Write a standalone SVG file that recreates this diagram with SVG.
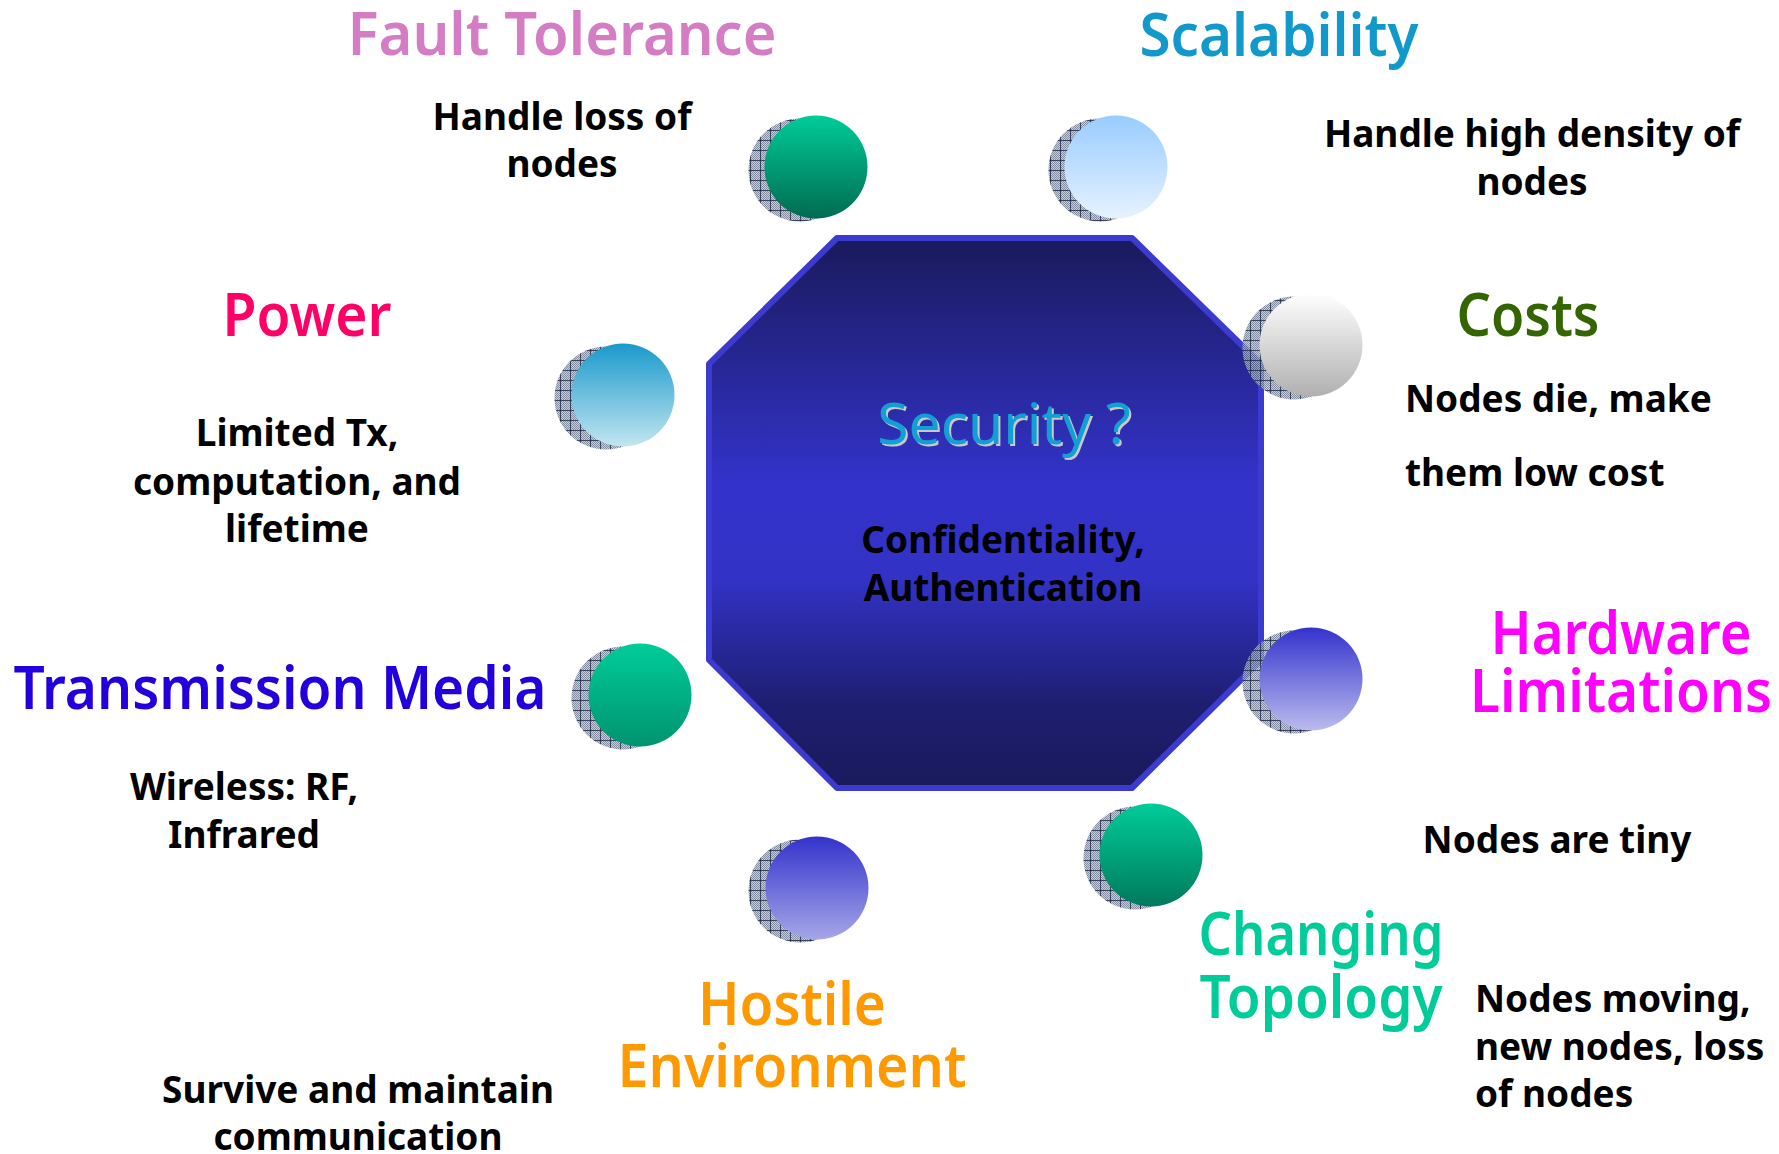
<svg xmlns="http://www.w3.org/2000/svg" width="1779" height="1154" viewBox="0 0 1779 1154">
<style>
.title{font-family:"Noto Sans","DejaVu Sans",sans-serif;font-size:60px;font-weight:600;text-anchor:middle}
.body{font-family:"Noto Sans","DejaVu Sans",sans-serif;font-size:37px;font-weight:700;fill:#000}
.mid{text-anchor:middle}
.shadow{fill:url(#hatch)}
</style>
<defs>
<pattern id="dots" width="2" height="2" patternUnits="userSpaceOnUse">
<rect width="2" height="2" fill="#b8c0cc"/>
<rect width="1" height="1" fill="#66728a"/>
<rect x="1" y="1" width="1" height="1" fill="#66728a"/>
</pattern>
<pattern id="hatch" width="10" height="10" patternUnits="userSpaceOnUse">
<rect width="10" height="10" fill="url(#dots)" opacity="0.8"/>
<path d="M0 0.5H10M0.5 0V10" stroke="#1c2a48" stroke-width="1" stroke-opacity="0.8"/>
</pattern>
<linearGradient id="octFill" x1="0" y1="0" x2="0" y2="1">
<stop offset="0" stop-color="#1a1a5c"/>
<stop offset="0.45" stop-color="#3333cc"/>
<stop offset="0.62" stop-color="#3232c6"/>
<stop offset="0.85" stop-color="#1e1e70"/>
<stop offset="1" stop-color="#1a1a5c"/>
</linearGradient>
<linearGradient id="gGreenDark" x1="0" y1="0" x2="0" y2="1"><stop offset="0" stop-color="#00cc99"/><stop offset="1" stop-color="#006b50"/></linearGradient>
<linearGradient id="gGreenMid" x1="0" y1="0" x2="0" y2="1"><stop offset="0" stop-color="#00cc99"/><stop offset="1" stop-color="#007a5c"/></linearGradient>
<linearGradient id="gGreenLight" x1="0" y1="0" x2="0" y2="1"><stop offset="0" stop-color="#00cc99"/><stop offset="1" stop-color="#009470"/></linearGradient>
<linearGradient id="gSky" x1="0" y1="0" x2="0" y2="1"><stop offset="0" stop-color="#99ccff"/><stop offset="1" stop-color="#e6f2ff"/></linearGradient>
<linearGradient id="gCyan" x1="0" y1="0" x2="0" y2="1"><stop offset="0" stop-color="#1a99cc"/><stop offset="1" stop-color="#c2e6f0"/></linearGradient>
<linearGradient id="gWhite" x1="0" y1="0" x2="0" y2="1"><stop offset="0" stop-color="#ffffff"/><stop offset="1" stop-color="#b0b0b0"/></linearGradient>
<linearGradient id="gBlueLight" x1="0" y1="0" x2="0" y2="1"><stop offset="0" stop-color="#3333cc"/><stop offset="1" stop-color="#bbbbee"/></linearGradient>
<linearGradient id="gBlueMid" x1="0" y1="0" x2="0" y2="1"><stop offset="0" stop-color="#3333cc"/><stop offset="1" stop-color="#a6a6e8"/></linearGradient>
</defs>
<rect width="1779" height="1154" fill="#ffffff"/>

<g id="security">
<polygon points="837,238 1132,238 1261,364 1261,660 1132,788 837,788 709,660 709,364" fill="url(#octFill)" stroke="#3b3bd0" stroke-width="6" stroke-linejoin="round"/>
<text x="1006" y="446" font-family="'Noto Sans','DejaVu Sans',sans-serif" font-size="57" text-anchor="middle" fill="#c8c8c8">Security ?</text>
<text x="1004" y="444" font-family="'Noto Sans','DejaVu Sans',sans-serif" font-size="57" text-anchor="middle" fill="#12a0d2">Security ?</text>
<text class="body mid" x="1003" y="553">Confidentiality,</text>
<text class="body mid" x="1003" y="601">Authentication</text>
</g>

<g id="connectors"/>

<g id="fault-tolerance">
<circle class="shadow" cx="800" cy="170" r="51.5"/>
<circle cx="816" cy="167" r="51.5" fill="url(#gGreenDark)"/>
<text class="title" x="562" y="55" fill="#d47cc4" textLength="429" lengthAdjust="spacingAndGlyphs">Fault Tolerance</text>
<text class="body mid" x="562" y="130">Handle loss of</text>
<text class="body mid" x="562" y="177">nodes</text>
</g>

<g id="scalability">
<circle class="shadow" cx="1100" cy="170" r="51.5"/>
<circle cx="1116" cy="167" r="51.5" fill="url(#gSky)"/>
<text class="title" x="1279" y="56" fill="#1199cc" textLength="279" lengthAdjust="spacingAndGlyphs">Scalability</text>
<text class="body mid" x="1532" y="147">Handle high density of</text>
<text class="body mid" x="1532" y="195">nodes</text>
</g>

<g id="power">
<circle class="shadow" cx="606" cy="398" r="51.5"/>
<circle cx="623" cy="395" r="51.5" fill="url(#gCyan)"/>
<text class="title" x="307" y="336" fill="#ff0066" textLength="169" lengthAdjust="spacingAndGlyphs">Power</text>
<text class="body mid" x="297" y="446">Limited Tx,</text>
<text class="body mid" x="297" y="495">computation, and</text>
<text class="body mid" x="297" y="542">lifetime</text>
</g>

<g id="costs">
<circle class="shadow" cx="1294" cy="348" r="51.5"/>
<circle cx="1311" cy="345" r="51.5" fill="url(#gWhite)"/>
<text class="title" x="1528" y="336" fill="#336600" textLength="143" lengthAdjust="spacingAndGlyphs">Costs</text>
<text class="body" x="1405" y="412">Nodes die, make</text>
<text class="body" x="1405" y="486">them low cost</text>
</g>

<g id="transmission-media">
<circle class="shadow" cx="623" cy="698" r="51.5"/>
<circle cx="640" cy="695" r="51.5" fill="url(#gGreenLight)"/>
<text class="title" x="280" y="709" fill="#2200dd" textLength="533" lengthAdjust="spacingAndGlyphs">Transmission Media</text>
<text class="body mid" x="244" y="800">Wireless: RF,</text>
<text class="body mid" x="244" y="848">Infrared</text>
</g>

<g id="hardware-limitations">
<circle class="shadow" cx="1294" cy="682" r="51.5"/>
<circle cx="1311" cy="679" r="51.5" fill="url(#gBlueLight)"/>
<text class="title" x="1621" y="654" fill="#ff00ff" textLength="261" lengthAdjust="spacingAndGlyphs">Hardware</text>
<text class="title" x="1621" y="712" fill="#ff00ff" textLength="302" lengthAdjust="spacingAndGlyphs">Limitations</text>
<text class="body mid" x="1557" y="853">Nodes are tiny</text>
</g>

<g id="changing-topology">
<circle class="shadow" cx="1135" cy="858" r="51.5"/>
<circle cx="1151" cy="855" r="51.5" fill="url(#gGreenMid)"/>
<text class="title" x="1321" y="955" fill="#00cc99" textLength="245" lengthAdjust="spacingAndGlyphs">Changing</text>
<text class="title" x="1321" y="1018" fill="#00cc99" textLength="243" lengthAdjust="spacingAndGlyphs">Topology</text>
<text class="body" x="1475" y="1012">Nodes moving,</text>
<text class="body" x="1475" y="1060">new nodes, loss</text>
<text class="body" x="1475" y="1107">of nodes</text>
</g>

<g id="hostile-environment">
<circle class="shadow" cx="800" cy="891" r="51.5"/>
<circle cx="817" cy="888" r="51.5" fill="url(#gBlueMid)"/>
<text class="title" x="792" y="1025" fill="#ff9900" textLength="188" lengthAdjust="spacingAndGlyphs">Hostile</text>
<text class="title" x="792" y="1087" fill="#ff9900" textLength="349" lengthAdjust="spacingAndGlyphs">Environment</text>
<text class="body mid" x="358" y="1103">Survive and maintain</text>
<text class="body mid" x="358" y="1150">communication</text>
</g>
</svg>
